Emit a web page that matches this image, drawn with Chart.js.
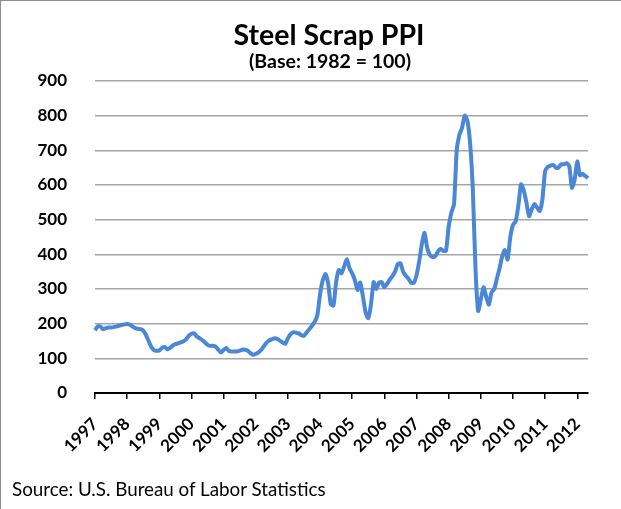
<!DOCTYPE html>
<html>
<head>
<meta charset="utf-8">
<script src="https://cdn.jsdelivr.net/npm/chart.js@4.4.1/dist/chart.umd.min.js"></script>
<style>
  html, body { margin: 0; padding: 0; background: #fff; }
  #wrap { position: relative; width: 621px; height: 509px; box-sizing: border-box;
          border-left: 1px solid #8c8c8c; border-top: 1px solid #8c8c8c; }
  #chartBox { position: absolute; left: 0; top: 0; width: 620px; height: 508px; }
  #source { position: absolute; left: 11px; top: 476px; font-family: Lato, "Open Sans", sans-serif;
            font-size: 18.8px; color: #000; white-space: nowrap; }
</style>
</head>
<body>
<div id="wrap">
  <div id="chartBox"><canvas id="ppiChart"></canvas></div>
  <div id="source">Source: U.S. Bureau of Labor Statistics</div>
</div>
<script>
// monthly PPI, Jan 1997 .. May 2012
var years = ['1997', '1998', '1999', '2000', '2001', '2002', '2003', '2004',
             '2005', '2006', '2007', '2008', '2009', '2010', '2011', '2012'];
var v1997 = [181, 192, 192, 184, 187, 189, 189, 190, 192, 194, 196, 198];
var v1998 = [199, 197, 192, 187, 185, 184, 180, 168, 150, 133, 124, 122];
var v1999 = [123, 130, 133, 126, 130, 137, 141, 143, 146, 149, 155, 165];
var v2000 = [171, 172, 163, 158, 153, 146, 139, 136, 136, 134, 125, 117];
var v2001 = [124, 130, 121, 120, 120, 120, 122, 125, 125, 122, 115, 110];
var v2002 = [113, 117, 124, 135, 145, 152, 155, 158, 156, 151, 146, 142];
var v2003 = [158, 170, 175, 174, 172, 167, 165, 175, 184, 194, 205, 225];
var v2004 = [285, 325, 343, 318, 256, 252, 320, 355, 345, 365, 386, 360];
var v2005 = [345, 325, 297, 319, 278, 232, 216, 255, 320, 300, 318, 320];
var v2006 = [305, 315, 327, 337, 350, 372, 374, 350, 338, 330, 318, 318];
var v2007 = [340, 380, 430, 462, 418, 398, 392, 395, 408, 416, 410, 410];
var v2008 = [480, 520, 545, 700, 745, 765, 800, 785, 720, 590, 360, 237];
var v2009 = [270, 305, 278, 255, 290, 300, 330, 360, 395, 412, 385, 450];
var v2010 = [485, 495, 540, 602, 585, 550, 510, 530, 545, 535, 525, 560];
var v2011 = [640, 652, 656, 658, 650, 650, 660, 660, 663, 655, 592, 615];
var v2012 = [668, 628, 632, 626, 620];

var yTicks = [0, 100, 200, 300, 400, 500, 600, 700, 800, 900];

var series = [v1997, v1998, v1999, v2000, v2001, v2002, v2003, v2004,
              v2005, v2006, v2007, v2008, v2009, v2010, v2011, v2012];
var labels = [];
var values = [];
series.forEach(function(arr, k) {
    arr.forEach(function(v, m) {
        labels.push(years[k] + '-' + (m + 1));
        values.push(v);
    });
});

var font = 'Lato, "Open Sans", sans-serif';

// title + subtitle drawn at fixed spots above the plot
var titlePlugin = {
    id: 'titles',
    afterDraw: function(chart) {
        var c = chart.ctx;
        c.save();
        c.fillStyle = '#000';
        c.textAlign = 'center';
        c.textBaseline = 'alphabetic';
        c.font = 'bold 28.5px ' + font;
        c.fillText('Steel Scrap PPI', 328, 44);
        c.font = 'bold 19.5px ' + font;
        c.fillText('(Base: 1982 = 100)', 329, 67);
        c.restore();
    }
};

var ctx = document.getElementById('ppiChart').getContext('2d');
var ppiChart = new Chart(ctx, {
    type: 'line',
    data: {
        labels: labels,
        datasets: [{
            label: 'Steel Scrap PPI',
            data: values,
            borderColor: '#4a87d6',
            borderWidth: 4,
            pointRadius: 0,
            tension: 0.2,
            fill: false
        }]
    },
    options: {
        responsive: true,
        maintainAspectRatio: false,
        animation: false,
        layout: { padding: { left: 0, right: 33, top: 80, bottom: 56 } },
        plugins: {
            legend: { display: false },
            tooltip: { enabled: false }
        },
        scales: {
            x: {
                type: 'category',
                offset: false,
                afterFit: function(scale) { scale.height = 60; },
                border: { display: true, color: '#000', width: 2 },
                grid: {
                    drawOnChartArea: false,
                    drawTicks: true,
                    tickLength: 6,
                    lineWidth: 1.5,
                    color: function(c) { return c.index % 12 === 0 ? '#000' : 'rgba(0,0,0,0)'; }
                },
                ticks: {
                    autoSkip: false,
                    maxRotation: 45,
                    minRotation: 45,
                    padding: 15,
                    color: '#000',
                    font: { family: font, size: 17, weight: 'bold' },
                    callback: function(val, i) {
                        return i % 12 === 0 ? years[i / 12] : '';
                    }
                }
            },
            y: {
                min: yTicks[0],
                max: yTicks[yTicks.length - 1],
                afterFit: function(scale) { scale.width = 94; },
                afterBuildTicks: function(scale) {
                    scale.ticks = yTicks.map(function(v) { return { value: v }; });
                },
                border: { display: false },
                grid: { color: '#a6a6a6', lineWidth: 1.5, drawTicks: false },
                ticks: {
                    padding: 28,
                    color: '#000',
                    font: { family: font, size: 17, weight: 'bold' }
                }
            }
        }
    },
    plugins: [titlePlugin]
});
</script>
</body>
</html>
